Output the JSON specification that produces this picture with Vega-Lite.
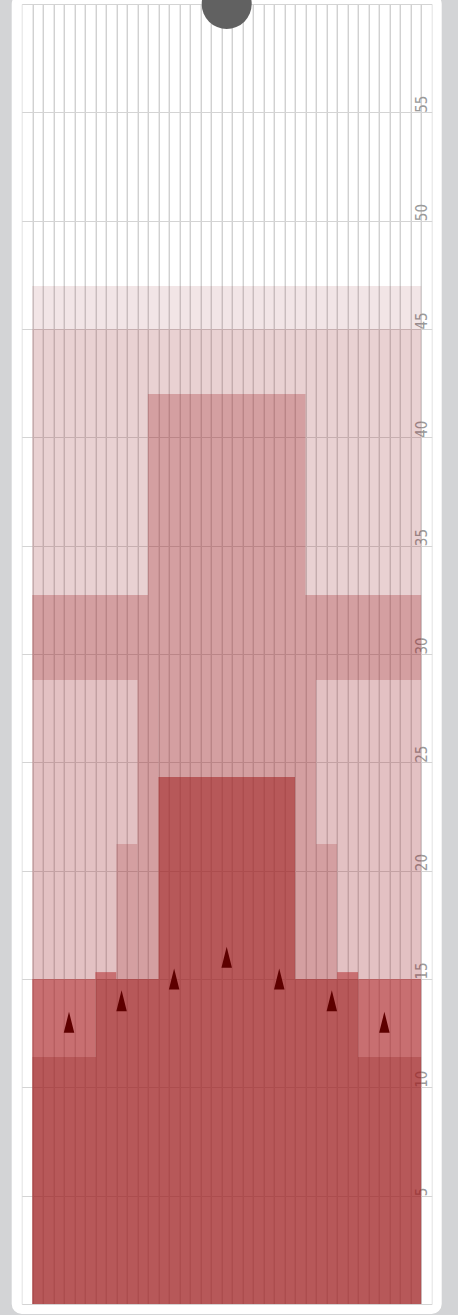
{
  "$schema": "https://vega.github.io/schema/vega-lite/v6.json",
  "width": 410,
  "height": 1300,
  "autosize": {"type": "none"},
  "padding": {"left": 21.7, "top": 4, "right": 26.3, "bottom": 11},
  "background": "#d3d4d6",
  "config": {
    "view": {"fill": "white", "stroke": "white", "strokeWidth": 20, "strokeJoin": "round"}
  },
  "datasets": {
    "regions": [
      {"x0": 0, "x1": 37, "y0": 45, "y1": 46.98, "tone": "VL"},
      {"x0": 0, "x1": 11, "y0": 32.72, "y1": 45, "tone": "L"},
      {"x0": 26, "x1": 37, "y0": 32.72, "y1": 45, "tone": "L"},
      {"x0": 11, "x1": 26, "y0": 42, "y1": 45, "tone": "L"},
      {"x0": 0, "x1": 37, "y0": 28.8, "y1": 32.72, "tone": "M"},
      {"x0": 11, "x1": 26, "y0": 32.72, "y1": 42, "tone": "M"},
      {"x0": 10, "x1": 12, "y0": 15, "y1": 28.8, "tone": "M"},
      {"x0": 25, "x1": 27, "y0": 15, "y1": 28.8, "tone": "M"},
      {"x0": 12, "x1": 25, "y0": 24.32, "y1": 28.8, "tone": "M"},
      {"x0": 8, "x1": 10, "y0": 15, "y1": 21.23, "tone": "M"},
      {"x0": 27, "x1": 29, "y0": 15, "y1": 21.23, "tone": "M"},
      {"x0": 0, "x1": 10, "y0": 21.23, "y1": 28.8, "tone": "L2"},
      {"x0": 27, "x1": 37, "y0": 21.23, "y1": 28.8, "tone": "L2"},
      {"x0": 0, "x1": 8, "y0": 15.32, "y1": 21.23, "tone": "L2"},
      {"x0": 29, "x1": 37, "y0": 15.32, "y1": 21.23, "tone": "L2"},
      {"x0": 0, "x1": 6, "y0": 15, "y1": 15.32, "tone": "L2"},
      {"x0": 31, "x1": 37, "y0": 15, "y1": 15.32, "tone": "L2"},
      {"x0": 0, "x1": 6, "y0": 11.4, "y1": 15, "tone": "MD"},
      {"x0": 31, "x1": 37, "y0": 11.4, "y1": 15, "tone": "MD"},
      {"x0": 6, "x1": 8, "y0": 15, "y1": 15.32, "tone": "MD"},
      {"x0": 29, "x1": 31, "y0": 15, "y1": 15.32, "tone": "MD"},
      {"x0": 0, "x1": 37, "y0": 0, "y1": 11.4, "tone": "D"},
      {"x0": 6, "x1": 31, "y0": 11.4, "y1": 15, "tone": "D"},
      {"x0": 12, "x1": 25, "y0": 15, "y1": 24.32, "tone": "D"}
    ],
    "markers": [
      {"x": 3.5, "y": 13},
      {"x": 8.5, "y": 14},
      {"x": 13.5, "y": 15},
      {"x": 18.5, "y": 16},
      {"x": 23.5, "y": 15},
      {"x": 28.5, "y": 14},
      {"x": 33.5, "y": 13}
    ],
    "dot": [{"x": 18.5, "y": 60}]
  },
  "layer": [
    {
      "data": {"name": "regions"},
      "mark": {"type": "rect"},
      "encoding": {
        "x": {
          "field": "x0", "type": "quantitative",
          "scale": {"domain": [-1, 38], "nice": false, "zero": false},
          "axis": {
            "values": [-1,0,1,2,3,4,5,6,7,8,9,10,11,12,13,14,15,16,17,18,19,20,21,22,23,24,25,26,27,28,29,30,31,32,33,34,35,36,37,38],
            "tickCount": 100,
            "labels": false, "ticks": false, "domain": false, "title": null,
            "grid": true, "zindex": 0, "gridWidth": 1,
            "gridColor": {"condition": {"test": "datum.value < 0 || datum.value > 37", "value": "#e2e2e2"}, "value": "#bdbdbd"}
          }
        },
        "x2": {"field": "x1"},
        "y": {
          "field": "y0", "type": "quantitative",
          "scale": {"domain": [0, 60], "nice": false, "zero": false},
          "axis": {
            "orient": "right",
            "values": [0,5,10,15,20,25,30,35,40,45,50,55,60],
            "format": "d",
            "labelExpr": "datum.value == 0 || datum.value == 60 ? '' : datum.label",
            "ticks": false, "tickSize": 0, "domain": false, "title": null,
            "grid": true, "zindex": 0, "gridColor": "#d4d4d4",
            "labelAngle": 270, "labelAlign": "left", "labelBaseline": "middle",
            "labelPadding": -10.7,
            "labelFont": "Liberation Sans Narrow, DejaVu Sans Condensed, sans-serif",
            "labelFontSize": 15, "labelColor": "#9a9a9a"
          }
        },
        "y2": {"field": "y1"},
        "color": {
          "field": "tone", "type": "nominal",
          "scale": {"domain": ["VL","L","L2","M","MD","D"], "range": ["rgba(144,33,41,0.117)","rgba(148,32,37,0.206)","rgba(154,32,39,0.278)","rgba(155,32,36,0.43)","rgba(170,32,35,0.646)","rgba(159,32,34,0.75)"]},
          "legend": null
        }
      }
    },
    {
      "data": {"name": "markers"},
      "mark": {"type": "point", "shape": "M0,-1L0.5,1L-0.5,1Z", "filled": true, "size": 441, "color": "#5e0000", "opacity": 1},
      "encoding": {
        "x": {"field": "x", "type": "quantitative"},
        "y": {"field": "y", "type": "quantitative"}
      }
    },
    {
      "data": {"name": "dot"},
      "mark": {"type": "point", "shape": "circle", "filled": true, "size": 2500, "color": "#616161", "opacity": 1},
      "encoding": {
        "x": {"field": "x", "type": "quantitative"},
        "y": {"field": "y", "type": "quantitative"}
      }
    }
  ]
}
